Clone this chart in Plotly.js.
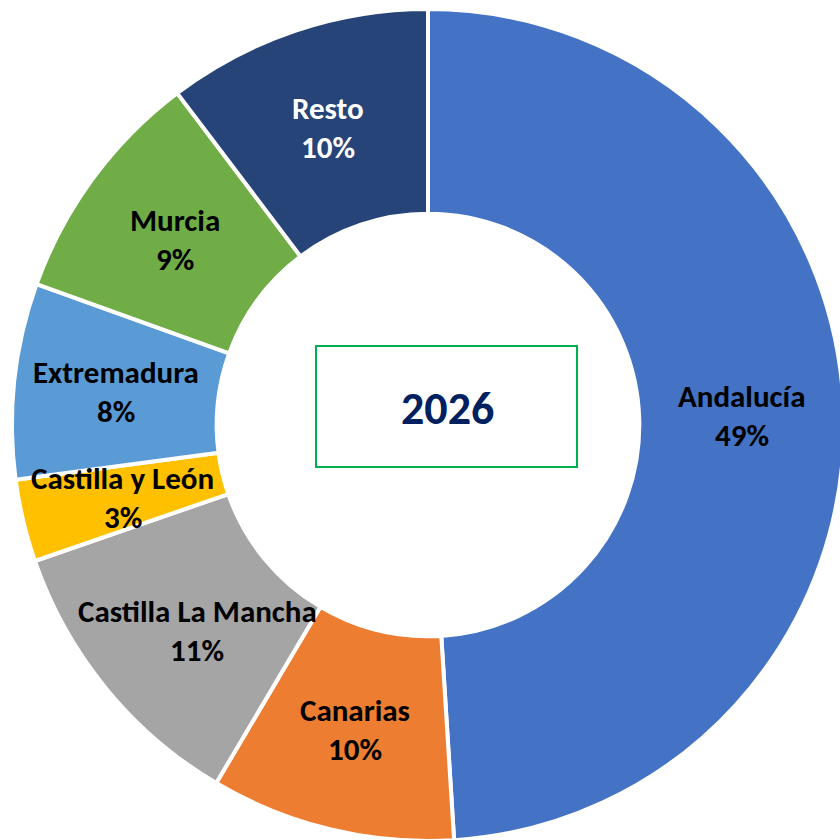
<!DOCTYPE html>
<html>
<head>
<meta charset="utf-8">
<script src="https://cdn.plot.ly/plotly-3.0.1.min.js"></script>
<style>
  html, body { margin: 0; padding: 0; overflow: hidden; background: #fff; }
  #chart { width: 844px; height: 841px; }
</style>
</head>
<body>
<div id="chart"></div>
<script>
// ---- data ----
const regions = ["Andalucía", "Canarias", "Castilla La Mancha", "Castilla y León", "Extremadura", "Murcia", "Resto"];
const shares = [49.0, 9.5, 11.2, 3.2, 7.6, 9.2, 10.3];
const pctLabels = ["49%", "10%", "11%", "3%", "8%", "9%", "10%"];
const sliceColors = ["#4472C4", "#ED7D31", "#A5A5A5", "#FFC000", "#5B9BD5", "#70AD47", "#264478"];
const labelColors = ["#000000", "#000000", "#000000", "#000000", "#000000", "#000000", "#FFFFFF"];
const centerTitle = "2026";

// ---- layout constants ----
const W = 844, H = 841;
const M = {l: 12, r: 0, t: 9, b: 0};
const plotW = W - M.l - M.r, plotH = H - M.t - M.b;
const HOLE = 0.508;
const FONT = "Carlito, Calibri, Lato, sans-serif";
const LABEL_SIZE = 31;
// small manual nudge (px) for an individual label, as in the original chart
const labelNudge = { "Castilla La Mancha": [12, 7] };

const trace = {
  type: "pie",
  labels: regions,
  values: shares,
  sort: false,
  direction: "clockwise",
  rotation: 0,
  hole: HOLE,
  textinfo: "none",
  hoverinfo: "skip",
  marker: { colors: sliceColors, line: { color: "#FFFFFF", width: 4 } },
  showlegend: false,
  domain: { x: [0, 1], y: [0, 1] }
};

// label positions computed from the data (middle of the ring, at each slice's mid angle)
const total = shares.reduce((a, b) => a + b, 0);
const midR = 0.5 * (1 + HOLE) / 2; // paper units (outer radius = 0.5)
const lineGap = 39; // px between the two label lines
const yShift = 0;   // px downward shift of label block
const annotations = [];
let cum = 0;
shares.forEach((v, i) => {
  const mid = (cum + v / 2) / total * 2 * Math.PI;
  cum += v;
  const nud = labelNudge[regions[i]] || [0, 0];
  const px = 0.5 + midR * Math.sin(mid) + nud[0] / plotW;
  const py = 0.5 + midR * Math.cos(mid) - (yShift + nud[1]) / plotH;
  const dy = (lineGap / 2) / plotH;
  annotations.push({
    xref: "paper", yref: "paper", x: px, y: py + dy, text: "<b>" + regions[i] + "</b>",
    showarrow: false, xanchor: "center", yanchor: "middle",
    font: { family: FONT, size: LABEL_SIZE, color: labelColors[i] }
  });
  annotations.push({
    xref: "paper", yref: "paper", x: px, y: py - dy, text: "<b>" + pctLabels[i] + "</b>",
    showarrow: false, xanchor: "center", yanchor: "middle",
    font: { family: FONT, size: LABEL_SIZE, color: labelColors[i] }
  });
});

// center title
const toPX = x => (x - M.l) / plotW;
const toPY = y => 1 - (y - M.t) / plotH;
annotations.push({
  xref: "paper", yref: "paper", x: toPX(447), y: toPY(408), text: "<b>" + centerTitle + "</b>",
  showarrow: false, xanchor: "center", yanchor: "middle",
  font: { family: FONT, size: 46, color: "#002060" }
});

const layout = {
  width: W, height: H,
  margin: M,
  paper_bgcolor: "#FFFFFF",
  plot_bgcolor: "#FFFFFF",
  showlegend: false,
  annotations: annotations,
  shapes: [{
    type: "rect", xref: "paper", yref: "paper",
    x0: toPX(316), x1: toPX(577), y0: toPY(467), y1: toPY(346),
    line: { color: "#00B050", width: 2 }, fillcolor: "rgba(0,0,0,0)"
  }]
};

Plotly.newPlot("chart", [trace], layout, { displayModeBar: false, staticPlot: true });
</script>
</body>
</html>
